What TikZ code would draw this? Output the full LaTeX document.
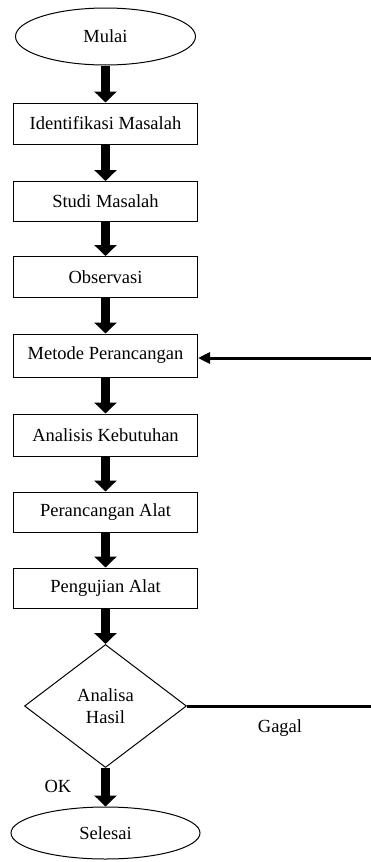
\documentclass[tikz,border=0pt]{standalone}
\usepackage{fontspec}
\setmainfont{Liberation Serif}
\usetikzlibrary{arrows.meta,shapes.geometric}
\begin{document}
\begin{tikzpicture}[x=1pt,y=1pt,
  stepbox/.style={draw,line width=1pt,minimum width=184pt,minimum height=41pt,inner sep=0pt,font=\fontsize{18.5}{22}\selectfont},
  oval/.style={draw,line width=1pt,ellipse,inner sep=0pt,font=\fontsize{18.5}{22}\selectfont},
  bigarrow/.style={line width=9pt,-{Triangle[width=22pt,length=11pt]}},
  back/.style={line width=3pt,-{Triangle[width=11pt,length=12pt]}},
  lbl/.style={font=\fontsize{18.5}{22}\selectfont}]
\useasboundingbox (0,0) rectangle (371,-862);
\node[oval,minimum width=180pt,minimum height=57pt] (m) at (105.5,-36.5) {Mulai};
\node[stepbox] (b1) at (105.5,-123.5) {Identifikasi Masalah};
\node[stepbox,minimum height=40pt] (b2) at (105.5,-201.5) {Studi Masalah};
\node[stepbox] (b3) at (105.5,-277) {Observasi};
\node[stepbox,minimum height=43pt] (b4) at (105.5,-355.5) {Metode Perancangan};
\node[stepbox,minimum height=42pt] (b5) at (105.5,-435) {Analisis Kebutuhan};
\node[stepbox,minimum height=40pt] (b6) at (105.5,-512) {Perancangan Alat};
\node[stepbox,minimum height=40pt] (b7) at (105.5,-588) {Pengujian Alat};
\node[draw,line width=1pt,diamond,minimum width=162pt,minimum height=123pt,inner sep=0pt,align=center,font=\fontsize{18.5}{22}\selectfont] (d) at (105.5,-706) {Analisa\\Hasil};
\node[oval,minimum width=189pt,minimum height=52pt] (s) at (105.5,-833) {Selesai};
\draw[bigarrow] (m.south) -- (b1.north);
\draw[bigarrow] (b1.south) -- (b2.north);
\draw[bigarrow] (b2.south) -- (b3.north);
\draw[bigarrow] (b3.south) -- (b4.north);
\draw[bigarrow] (b4.south) -- (b5.north);
\draw[bigarrow] (b5.south) -- (b6.north);
\draw[bigarrow] (b6.south) -- (b7.north);
\draw[bigarrow] (b7.south) -- (d.north);
\draw[bigarrow] (d.south) -- (s.north);
\coordinate (r1) at (371,-358);
\coordinate (r2) at (371,-706);
\draw[back] (r1) -- (r1 -| b4.east);
\draw[line width=3pt] (d.east) -- (r2);
\node[lbl] (gagal) at (280,-728) {Gagal};
\node[lbl] (ok) at (58,-786) {OK};
\end{tikzpicture}
\end{document}
